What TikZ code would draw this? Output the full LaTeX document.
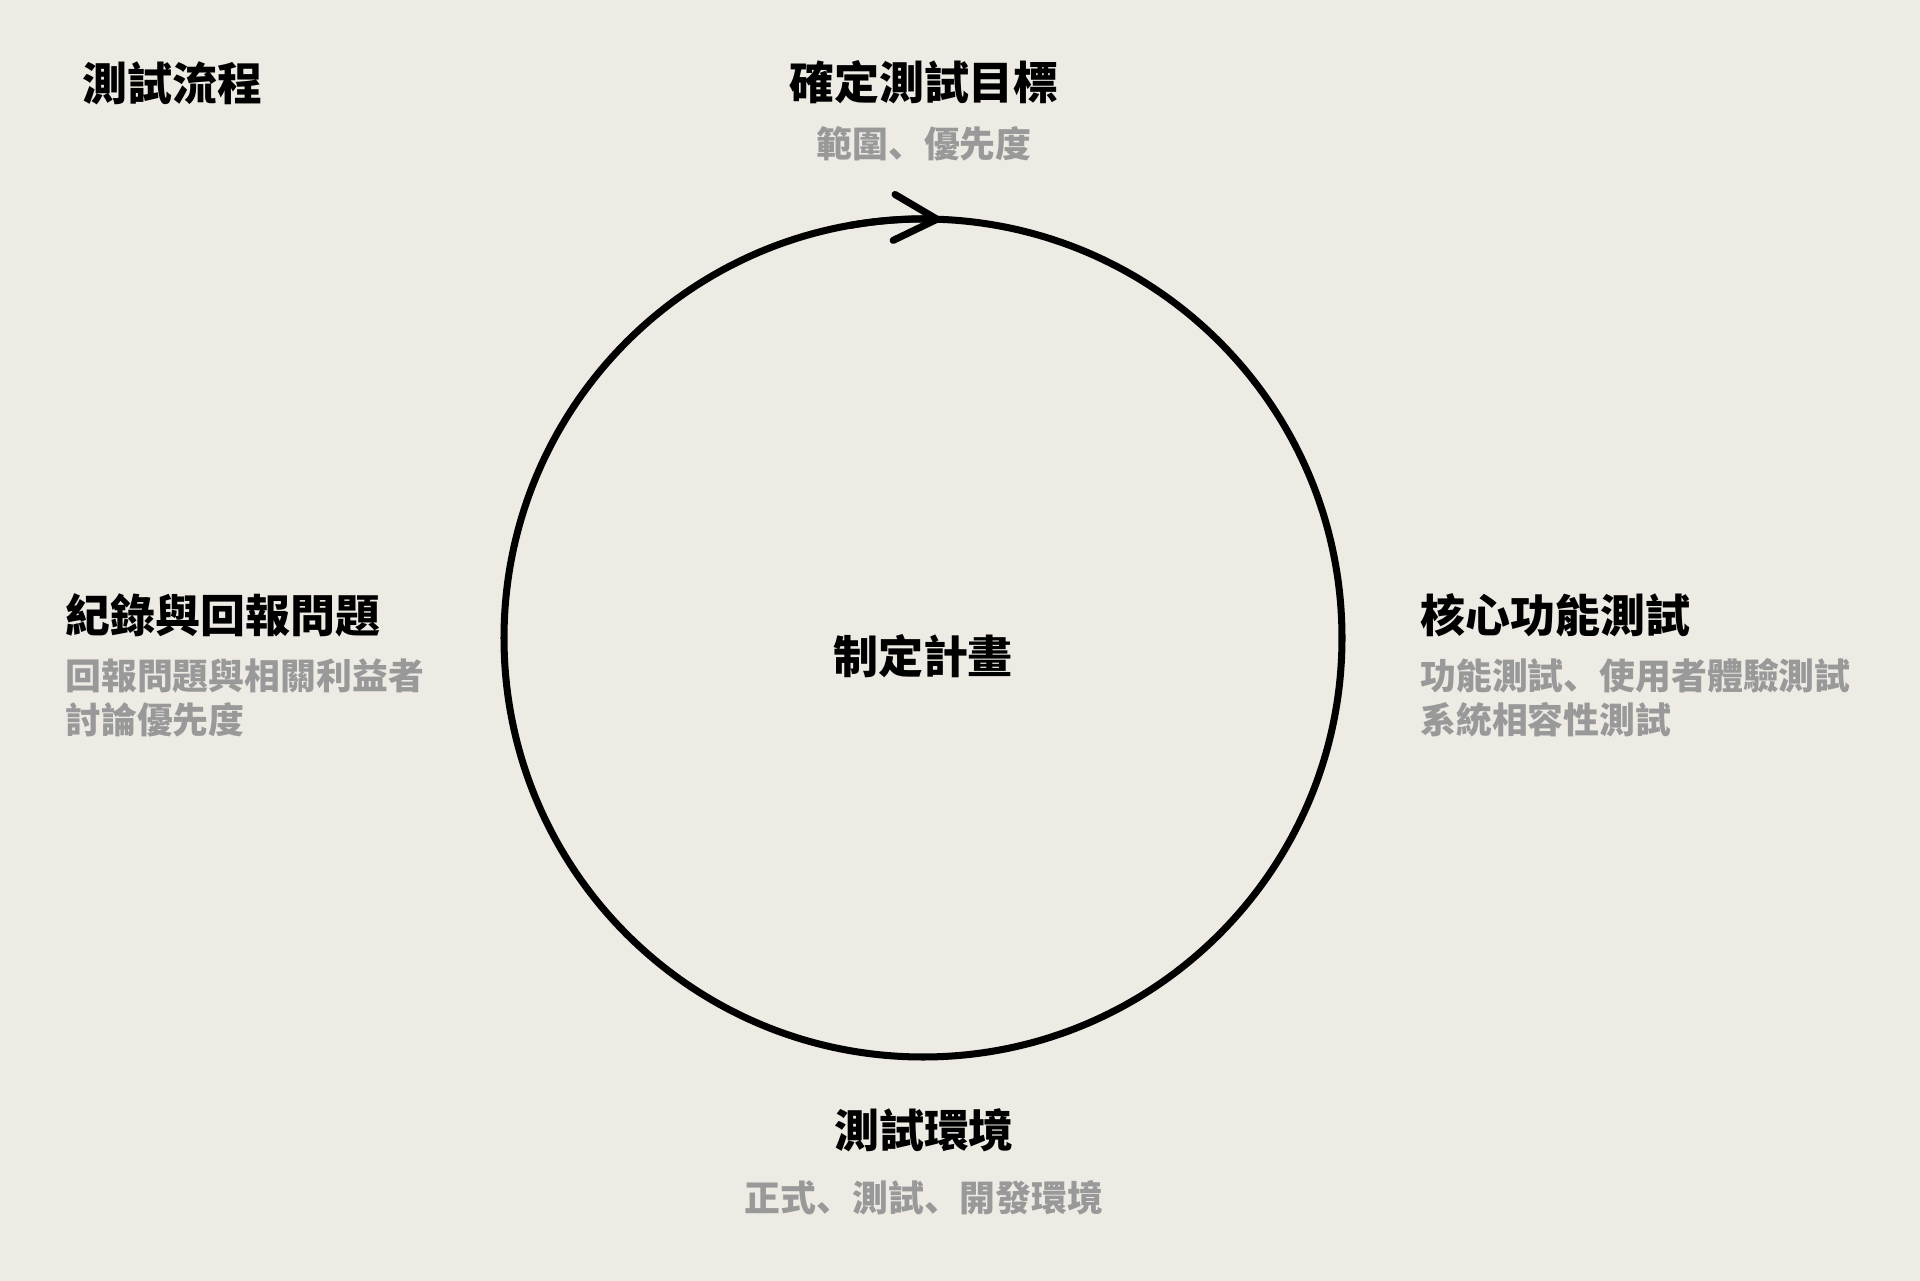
\documentclass[tikz,border=0pt]{standalone}
\usepackage{fontspec}
\newfontfamily\cjk{Noto Sans CJK TC}
\newfontfamily\cjkjp{Noto Sans CJK JP}
\newcommand{\dun}{{\cjkjp 、}}
\usetikzlibrary{arrows.meta, positioning}
\definecolor{paper}{HTML}{EDEBE3}
\definecolor{note}{HTML}{999999}
\tikzset{every picture/.append style={thick}}

\begin{document}
\begin{tikzpicture}[x=0.1mm, y=-0.1mm, >={Straight Barb[length=4.3mm, width=4.6mm, round]},
    head/.style={font=\cjk\bfseries\fontsize{12.8}{15}\selectfont, inner sep=0},
    sub/.style={font=\cjk\bfseries\fontsize{10.2}{12.5}\selectfont, text=note, inner sep=0, align=left}]
    % --- Canvas ---
    \fill[paper] (0,0) rectangle (1920,1281);
    \useasboundingbox (0,0) rectangle (1920,1281);

    \node[head, anchor=west] (title) at (81,83) {測試流程};

    % --- Cycle ---
    \node[circle, draw, line width=2pt, minimum size=8.38cm, inner sep=0] (loop) at (923,638) {};
    \draw[->, line width=2pt, line cap=round] (loop.center) ++(100:4.19cm) arc[start angle=100, end angle=87.6, radius=4.19cm];
    \node[head] (plan) at (923,656) {制定計畫};

    % --- Top: goals ---
    \node[head] (goal) at (924,82) {確定測試目標};
    \node[sub] (goalsub) at (924,144) {範圍\dun 優先度};

    % --- Right: core tests ---
    \node[head, anchor=west] (core) at (1419,615) {核心功能測試};
    \node[sub, anchor=west] (coresub) at (1419,698) {功能測試\dun 使用者體驗測試\\系統相容性測試};

    % --- Bottom: environment ---
    \node[head] (env) at (924,1130) {測試環境};
    \node[sub] (envsub) at (924,1198) {正式\dun 測試\dun 開發環境};

    % --- Left: reporting ---
    \node[head, anchor=west] (report) at (64,615) {紀錄與回報問題};
    \node[sub, anchor=west] (reportsub) at (64,698) {回報問題與相關利益者\\討論優先度};
\end{tikzpicture}
\end{document}
